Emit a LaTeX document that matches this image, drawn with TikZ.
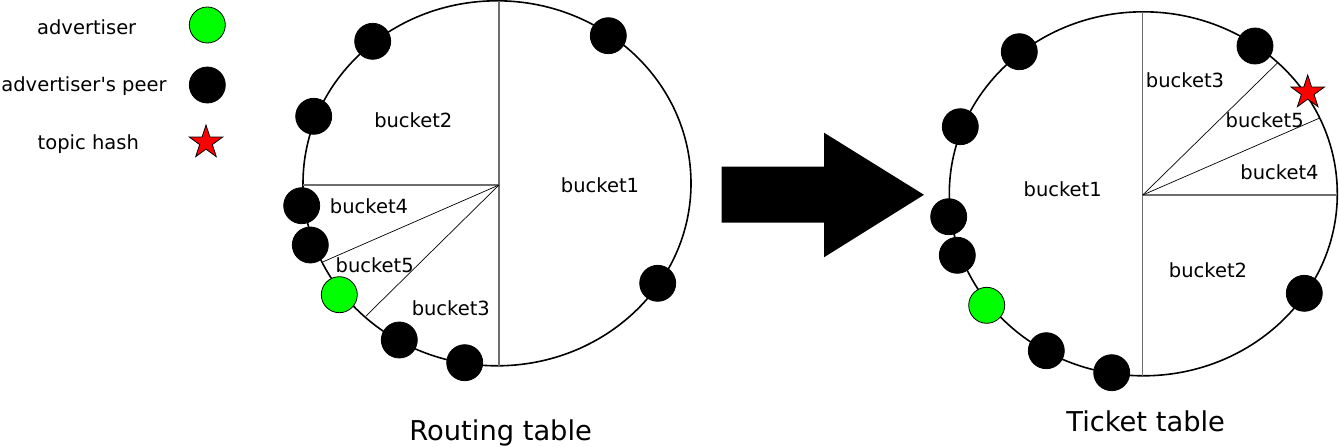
\documentclass[tikz,border=0pt]{standalone}
\usepackage{fontspec}
\setmainfont{DejaVu Sans}[Ligatures=TeXOff]
\usetikzlibrary{shapes.geometric}
\definecolor{lime}{RGB}{0,255,0}
\definecolor{axisgray}{RGB}{110,110,110}
\begin{document}
\begin{tikzpicture}[x=1pt,y=-1pt,
  peer/.style={circle,fill=black,draw=black,line width=0.8pt,minimum size=36pt,inner sep=0pt},
  adv/.style={circle,fill=lime,draw=black,line width=0.8pt,minimum size=36pt,inner sep=0pt},
  hash/.style={star,star points=5,star point ratio=2.618,fill=red,draw=black,line width=0.8pt,minimum size=35pt,inner sep=0pt},
  lbl/.style={anchor=base,inner sep=0pt,font=\fontsize{19.5}{23}\selectfont},
  captext/.style={anchor=base,inner sep=0pt,font=\fontsize{27.3}{32}\selectfont},
  ring/.style={line width=1.6pt},
  axis/.style={draw=axisgray,line width=1.4pt},
  wedge/.style={draw=black,line width=0.7pt}]
\useasboundingbox (0,0) rectangle (1339,447);

% ---------- legend ----------
\node[lbl] (l1) at (86.7,34.3) {advertiser};
\node[adv] (lg1) at (207.3,25) {};
\node[lbl] (l2) at (84,91.5) {advertiser's peer};
\node[peer] (lg2) at (207.3,85) {};
\node[lbl] (l3) at (88.3,149.5) {topic hash};
\node[hash] (lg3) at (206,142.5) {};

% ---------- routing table ----------
\draw[ring] (497,183.3) ellipse [x radius=194, y radius=182.5];
\coordinate (c1) at (499,185);
\coordinate (c1t) at (499,0.8);
\coordinate (c1b) at (499,365.8);
\coordinate (c1l) at (302.8,185);
\coordinate (c1w1) at (323.3,261.7);
\coordinate (c1w2) at (366,316);
\draw[axis] (c1t) -- (c1b);
\draw[axis] (c1) -- (c1l);
\draw[wedge] (c1) -- (c1w1);
\draw[wedge] (c1) -- (c1w2);

\node[lbl] (rb2) at (413.3,127.3) {bucket2};
\node[lbl] (rb1) at (600,192.3) {bucket1};
\node[lbl] (rb4) at (369,213.3) {bucket4};
\node[lbl] (rb5) at (374.7,272.3) {bucket5};
\node[lbl] (rb3) at (450.8,315) {bucket3};

\node[peer] (rp1) at (372.7,41.3) {};
\node[peer] (rp2) at (608.3,35.7) {};
\node[peer] (rp3) at (313.7,116.3) {};
\node[peer] (rp4) at (301.7,205.7) {};
\node[peer] (rp5) at (310.3,245) {};
\node[adv]  (ra)  at (339.3,294.7) {};
\node[peer] (rp6) at (399.3,340) {};
\node[peer] (rp7) at (464.7,362.7) {};
\node[peer] (rp8) at (657.7,283.3) {};

\node[captext] (rcap) at (500.7,440) {Routing table};

% ---------- arrow ----------
\fill (721.7,166.7) -- (824,166.7) -- (824,132.7) -- (924,194.8) -- (824,257.3) -- (824,222.7) -- (721.7,222.7) -- cycle;

% ---------- ticket table ----------
\draw[ring] (1143.3,193.8) ellipse [x radius=194, y radius=182];
\coordinate (c2) at (1142.7,195);
\coordinate (c2t) at (1142.7,11.8);
\coordinate (c2b) at (1142.7,375.8);
\coordinate (c2r) at (1337.3,195);
\coordinate (c2w1) at (1277.7,62.7);
\coordinate (c2w2) at (1319,118.3);
\draw[axis] (c2t) -- (c2b);
\draw[axis] (c2) -- (c2r);
\draw[wedge] (c2) -- (c2w1);
\draw[wedge] (c2) -- (c2w2);

\node[lbl] (tb3) at (1185,87.3) {bucket3};
\node[lbl] (tb5) at (1264.7,127.7) {bucket5};
\node[lbl] (tb4) at (1279.5,179.3) {bucket4};
\node[lbl] (tb1) at (1062.7,196.7) {bucket1};
\node[lbl] (tb2) at (1208,277.7) {bucket2};

\node[peer] (tp1) at (1019.3,51.7) {};
\node[peer] (tp2) at (1255,46) {};
\node[peer] (tp3) at (960.3,126.7) {};
\node[peer] (tp4) at (948.7,216.7) {};
\node[peer] (tp5) at (957.3,255.3) {};
\node[adv]  (ta)  at (986.7,305.3) {};
\node[peer] (tp6) at (1046.3,350.7) {};
\node[peer] (tp7) at (1111.7,372.7) {};
\node[peer] (tp8) at (1304.3,293.3) {};
\node[hash] (th)  at (1307.7,92.5) {};

\node[captext] (tcap) at (1145.7,431.7) {Ticket table};
\end{tikzpicture}
\end{document}
